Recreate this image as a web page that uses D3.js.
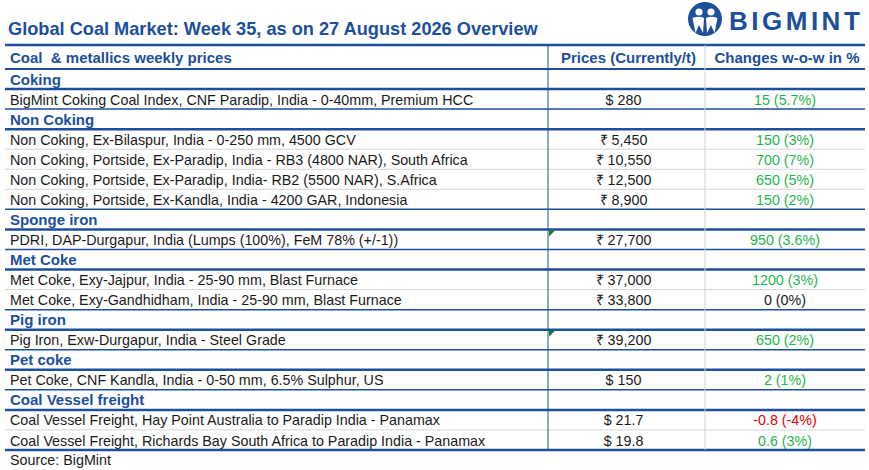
<!DOCTYPE html><html><head><meta charset="utf-8">
<script src="https://cdn.jsdelivr.net/npm/d3@7"></script>
<style>body{margin:0;background:#fff}text{font-family:"Liberation Sans",Arial,sans-serif}</style></head><body>
<svg id="c" width="869" height="470"></svg>
<script>
const title = "Global Coal Market: Week 35, as on 27 August 2026 Overview";
const headers = ["Coal  & metallics weekly prices", "Prices (Currently/t)", "Changes w-o-w in %"];
const categories = ["Coking","Non Coking","Sponge iron","Met Coke","Pig iron","Pet coke","Coal Vessel freight"];
const items = [
 ["Coking","BigMint Coking Coal Index, CNF Paradip, India - 0-40mm, Premium HCC","$ 280","15 (5.7%)"],
 ["Non Coking","Non Coking, Ex-Bilaspur, India - 0-250 mm, 4500 GCV","₹ 5,450","150 (3%)"],
 ["Non Coking","Non Coking, Portside, Ex-Paradip, India - RB3 (4800 NAR), South Africa","₹ 10,550","700 (7%)"],
 ["Non Coking","Non Coking, Portside, Ex-Paradip, India- RB2 (5500 NAR), S.Africa","₹ 12,500","650 (5%)"],
 ["Non Coking","Non Coking, Portside, Ex-Kandla, India - 4200 GAR, Indonesia","₹ 8,900","150 (2%)"],
 ["Sponge iron","PDRI, DAP-Durgapur, India (Lumps (100%), FeM 78% (+/-1))","₹ 27,700","950 (3.6%)"],
 ["Met Coke","Met Coke, Exy-Jajpur, India - 25-90 mm, Blast Furnace","₹ 37,000","1200 (3%)"],
 ["Met Coke","Met Coke, Exy-Gandhidham, India - 25-90 mm, Blast Furnace","₹ 33,800","0 (0%)"],
 ["Pig iron","Pig Iron, Exw-Durgapur, India - Steel Grade","₹ 39,200","650 (2%)"],
 ["Pet coke","Pet Coke, CNF Kandla, India - 0-50 mm, 6.5% Sulphur, US","$ 150","2 (1%)"],
 ["Coal Vessel freight","Coal Vessel Freight, Hay Point Australia to Paradip India - Panamax","$ 21.7","-0.8 (-4%)"],
 ["Coal Vessel freight","Coal Vessel Freight, Richards Bay South Africa to Paradip India - Panamax","$ 19.8","0.6 (3%)"]
];
const changeDir = [1,1,1,1,1,1,1,0,1,1,-1,1];
const source = "Source: BigMint";

const svg = d3.select("#c");
const blue="#1c4f9c", dark="#1a1a1a", fs=14.3;
const rows=[];
categories.forEach(c=>{rows.push({type:"cat",text:c});items.forEach((it,i)=>{if(it[0]===c)rows.push({type:"item",it,i});});});
const y=d3.scaleLinear().domain([0,rows.length]).range([69,450]);
const x0=5,x1=548,x2=705,x3=865;

svg.append("text").attr("x",8).attr("y",35).attr("fill",blue).attr("font-size",18.2).attr("font-weight","bold").text(title);
const lg=svg.append("g").attr("transform","translate(705,19)");
lg.append("circle").attr("r",17).attr("fill",blue);
lg.append("circle").attr("cx",-6).attr("cy",-7).attr("r",3.6).attr("fill","#fff");
lg.append("circle").attr("cx",6).attr("cy",-7).attr("r",3.6).attr("fill","#fff");
lg.append("path").attr("d","M-12.5,-1 Q-6,-3.5 -1,-1 L-2,14 L-6,6 L-9.5,14 Z").attr("fill","#fff");
lg.append("path").attr("d","M12.5,-1 Q6,-3.5 1,-1 L2,14 L6,6 L9.5,14 Z").attr("fill","#fff");
svg.append("text").attr("x",729).attr("y",30).attr("fill",blue).attr("font-size",26).attr("font-weight","bold").attr("letter-spacing",3.5).text("BIGMINT");

svg.append("line").attr("x1",x0).attr("x2",x3).attr("y1",45).attr("y2",45).attr("stroke",blue).attr("stroke-width",2.5);
svg.append("text").attr("x",10).attr("y",63).attr("fill",blue).attr("font-size",15).attr("font-weight","bold").attr("xml:space","preserve").text(headers[0]);
svg.append("text").attr("x",(x1+x2)/2+2).attr("y",63).attr("text-anchor","middle").attr("fill",blue).attr("font-size",15).attr("font-weight","bold").text(headers[1]);
svg.append("text").attr("x",(x2+x3)/2+2).attr("y",63).attr("text-anchor","middle").attr("fill",blue).attr("font-size",15).attr("font-weight","bold").text(headers[2]);

rows.forEach((r,k)=>{
  const top=y(k), bot=y(k+1), ty=bot-4.5;
  if(r.type==="cat"){
    svg.append("line").attr("x1",x0).attr("x2",x3).attr("y1",top).attr("y2",top).attr("stroke",blue).attr("stroke-width",k===0?2:1.5);
    svg.append("text").attr("x",10).attr("y",ty).attr("fill",blue).attr("font-size",15).attr("font-weight","bold").text(r.text);
  } else {
    const prevCat=rows[k-1].type==="cat";
    svg.append("line").attr("x1",x0).attr("x2",x3).attr("y1",top).attr("y2",top)
      .attr("stroke",prevCat?blue:"#d4d4d4").attr("stroke-width",prevCat?2.5:1);
    svg.append("text").attr("x",10).attr("y",ty).attr("fill",dark).attr("font-size",fs).text(r.it[1]);
    svg.append("text").attr("x",(x1+x2)/2-3).attr("y",ty).attr("text-anchor","middle").attr("fill",dark).attr("font-size",fs).text(r.it[2]);
    const d=changeDir[r.i];
    svg.append("text").attr("x",(x2+x3)/2).attr("y",ty).attr("text-anchor","middle")
      .attr("fill",d>0?"#1fb44b":d<0?"#e60000":dark).attr("font-size",fs).text(r.it[3]);
    if(r.it[0]==="Sponge iron"||r.it[0]==="Pig iron")
      svg.append("path").attr("d",`M${x1+1},${top+1}h6l-6,6z`).attr("fill","#1a7a2a");
  }
});
svg.append("line").attr("x1",x0).attr("x2",x3).attr("y1",450).attr("y2",450).attr("stroke",blue).attr("stroke-width",2.5);
svg.append("line").attr("x1",x1).attr("x2",x1).attr("y1",45).attr("y2",450).attr("stroke",blue).attr("stroke-width",1);
svg.append("line").attr("x1",x2).attr("x2",x2).attr("y1",45).attr("y2",450).attr("stroke","#cfcfcf").attr("stroke-width",1);
svg.append("text").attr("x",10).attr("y",465).attr("fill",dark).attr("font-size",fs).text(source);
</script></body></html>
